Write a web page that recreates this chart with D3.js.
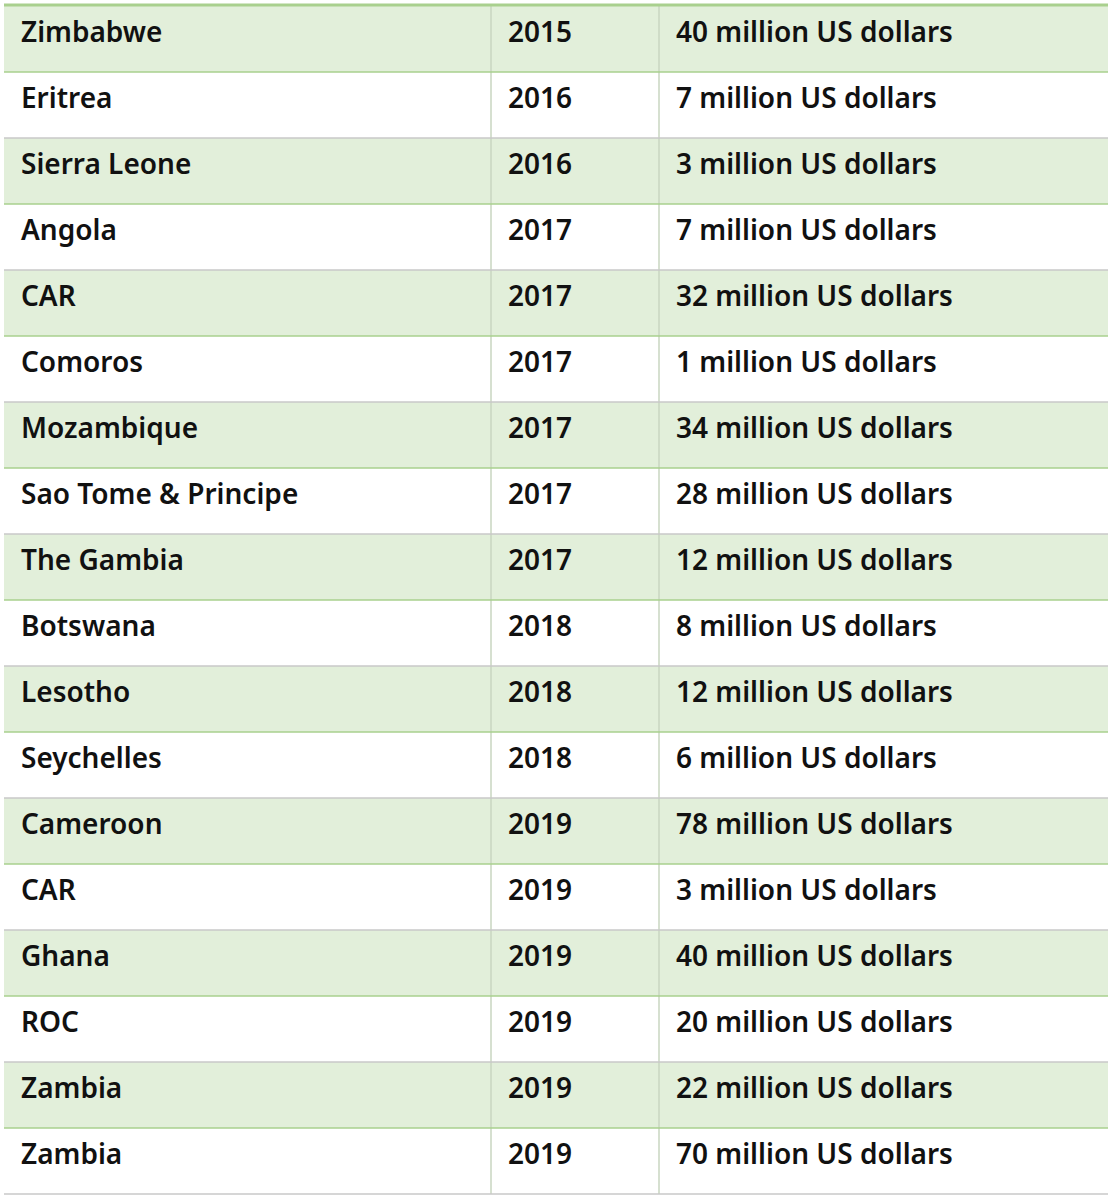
<!DOCTYPE html>
<html><head><meta charset="utf-8">
<script src="https://cdn.jsdelivr.net/npm/d3@7"></script>
<style>body{margin:0;background:#fff}</style>
</head><body><svg></svg>
<script>
const countries = ["Zimbabwe","Eritrea","Sierra Leone","Angola","CAR","Comoros","Mozambique","Sao Tome & Principe","The Gambia","Botswana","Lesotho","Seychelles","Cameroon","CAR","Ghana","ROC","Zambia","Zambia"];
const years = [2015,2016,2016,2017,2017,2017,2017,2017,2017,2018,2018,2018,2019,2019,2019,2019,2019,2019];
const amounts = [40,7,3,7,32,1,34,28,12,8,12,6,78,3,40,20,22,70];

const width = 1113, height = 1200;
const tLeft = 4, tRight = 1108, tTop = 6, rowH = 66;
const colX = [tLeft, 491, 659, tRight];

const svg = d3.select("svg").attr("width", width).attr("height", height);
const y = d3.scaleBand().domain(d3.range(countries.length)).range([tTop, tTop + rowH * countries.length]);

//row fills
svg.selectAll("rect.row").data(countries).enter().append("rect")
  .attr("x", tLeft).attr("width", tRight - tLeft)
  .attr("y", (d, i) => y(i)).attr("height", y.bandwidth())
  .attr("fill", (d, i) => i % 2 === 0 ? "#e2efda" : "#fff");

//vertical lines
svg.selectAll("line.v").data(colX.slice(1, 3)).enter().append("line")
  .attr("x1", d => d).attr("x2", d => d)
  .attr("y1", tTop).attr("y2", tTop + rowH * countries.length)
  .attr("stroke", "#c8d6c0").attr("stroke-width", 1.5);

//horizontal lines
svg.selectAll("line.h").data(countries).enter().append("line")
  .attr("x1", tLeft).attr("x2", tRight)
  .attr("y1", (d, i) => y(i) + rowH).attr("y2", (d, i) => y(i) + rowH)
  .attr("stroke", (d, i) => i % 2 === 0 ? "#a9d08e" : "#c9c9c9").attr("stroke-width", 1.5);

svg.append("line").attr("x1", tLeft).attr("x2", tRight).attr("y1", tTop - 1).attr("y2", tTop - 1)
  .attr("stroke", "#a9d08e").attr("stroke-width", 3);

const rows = countries.map((c, i) => [c, years[i], amounts[i] + " million US dollars"]);
const textX = [21, 508, 676];
rows.forEach((r, i) => {
  svg.selectAll(null).data(r).enter().append("text")
    .attr("x", (d, j) => textX[j]).attr("y", y(i) + 36)
    .attr("font-family", "Noto Sans, sans-serif").attr("font-weight", 600)
    .attr("font-size", 28).attr("fill", "#111")
    .text(d => d);
});
</script></body></html>
